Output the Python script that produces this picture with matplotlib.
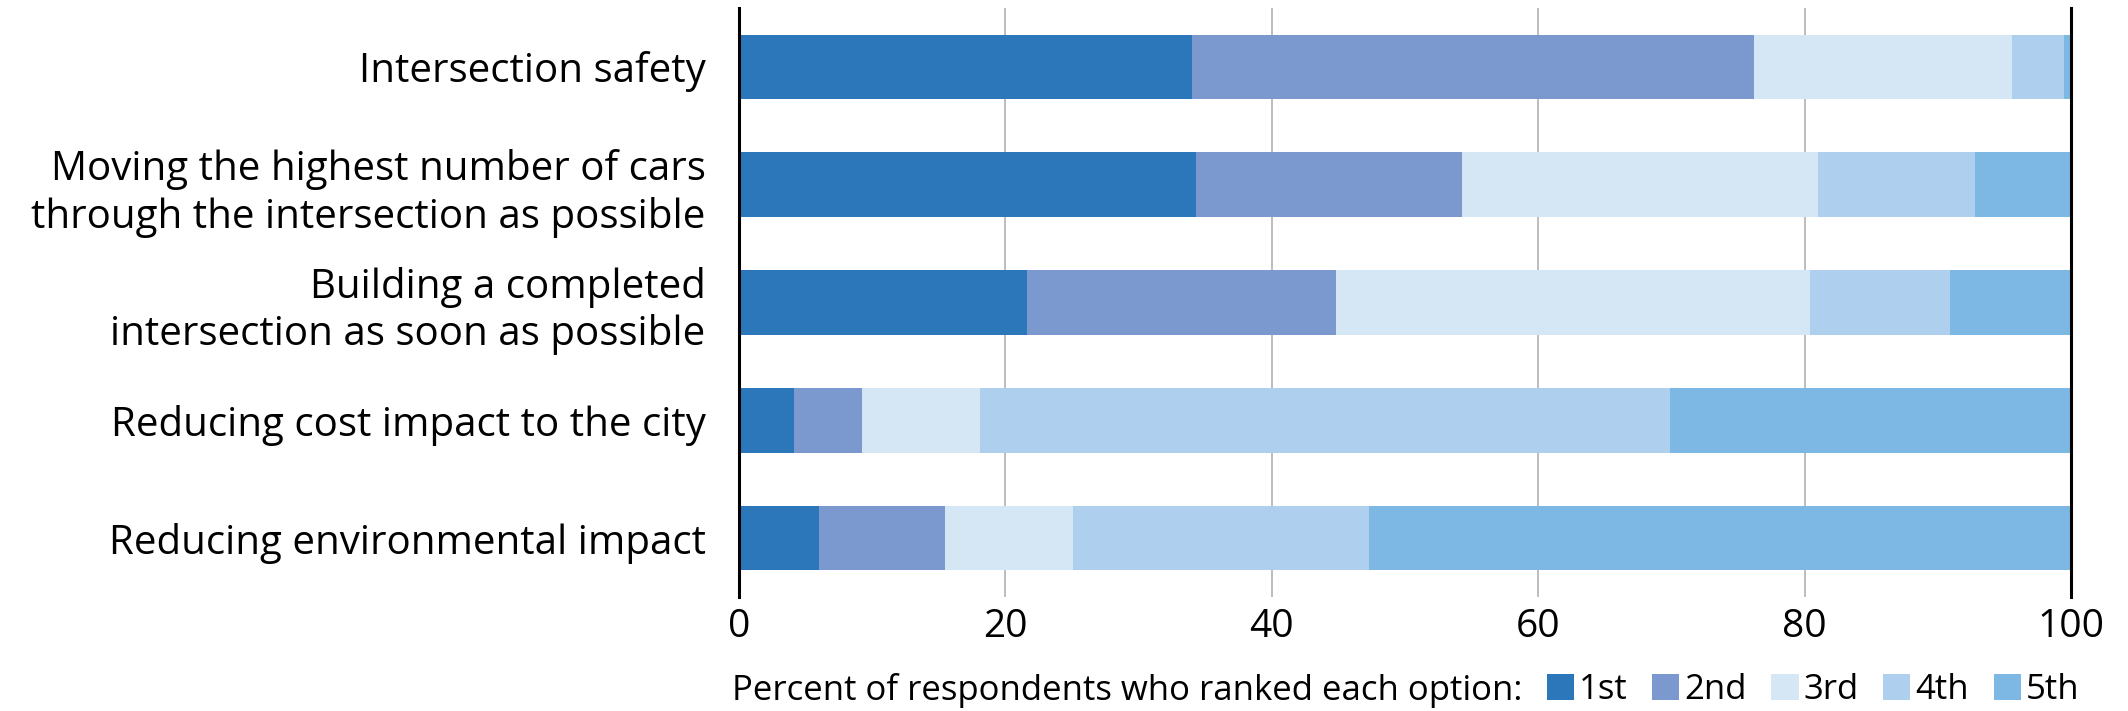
import matplotlib.pyplot as plt
import numpy as np

plt.rcParams['font.family'] = ['Open Sans', 'DejaVu Sans']

# data (percent of respondents per rank)
options = ["Intersection safety",
           "Moving the highest number of cars\nthrough the intersection as possible",
           "Building a completed\nintersection as soon as possible",
           "Reducing cost impact to the city",
           "Reducing environmental impact"]
ranks = ["1st", "2nd", "3rd", "4th", "5th"]
first = [34.0, 34.3, 21.6, 4.1, 6.0]
second = [42.2, 20.0, 23.2, 5.1, 9.5]
third = [19.4, 26.7, 35.6, 8.9, 9.6]
fourth = [3.9, 11.8, 10.5, 51.8, 22.2]
fifth = [0.5, 7.2, 9.1, 30.1, 52.7]
xticks = [0, 20, 40, 60, 80, 100]

colors = ['#2c77b9', '#7b99cf', '#d5e6f5', '#aed0ee', '#7db8e4']

fig = plt.figure(figsize=(21.28, 7.11), dpi=100)
ax = fig.add_axes([739/2128, 1-597/711, (2071-739)/2128, (597-8)/711])

y = np.arange(len(options))
left = np.zeros(len(options))
handles = []
for vals, col, lab in zip([first, second, third, fourth, fifth], colors, ranks):
    b = ax.barh(y, vals, left=left, height=0.55, color=col, label=lab, zorder=2)
    handles.append(b)
    left += np.array(vals)

ax.set_ylim(len(options) - 0.5, -0.5)
ax.set_xlim(0, 100)
ax.set_yticks(y)
ax.set_yticklabels(options, fontsize=29, linespacing=1.22)
ax.set_xticks(xticks)
ax.set_xticklabels([str(t) for t in xticks], fontsize=28)
ax.tick_params(axis='y', length=0, pad=24)
ax.tick_params(axis='x', length=0, pad=8)

ax.grid(axis='x', color='#b8b8b8', linewidth=1.3, zorder=0)
ax.set_axisbelow(True)
for s in ['top', 'bottom']:
    ax.spines[s].set_visible(False)
for s in ['left', 'right']:
    ax.spines[s].set_linewidth(2.2)
    ax.spines[s].set_color('black')
    ax.spines[s].set_zorder(3)

fig.text(732/2128, 1-690/711, "Percent of respondents who ranked each option:",
         fontsize=25, va='center', ha='left')
ax.legend(handles=handles, labels=ranks, ncol=5, frameon=False, fontsize=25,
          loc='center left', bbox_to_anchor=(1547/2128, 1-690/711),
          bbox_transform=fig.transFigure, borderpad=0, borderaxespad=0,
          handlelength=0.78, handleheight=0.78, handletextpad=0.15,
          columnspacing=0.7)

fig.savefig("out.png", dpi=100)
